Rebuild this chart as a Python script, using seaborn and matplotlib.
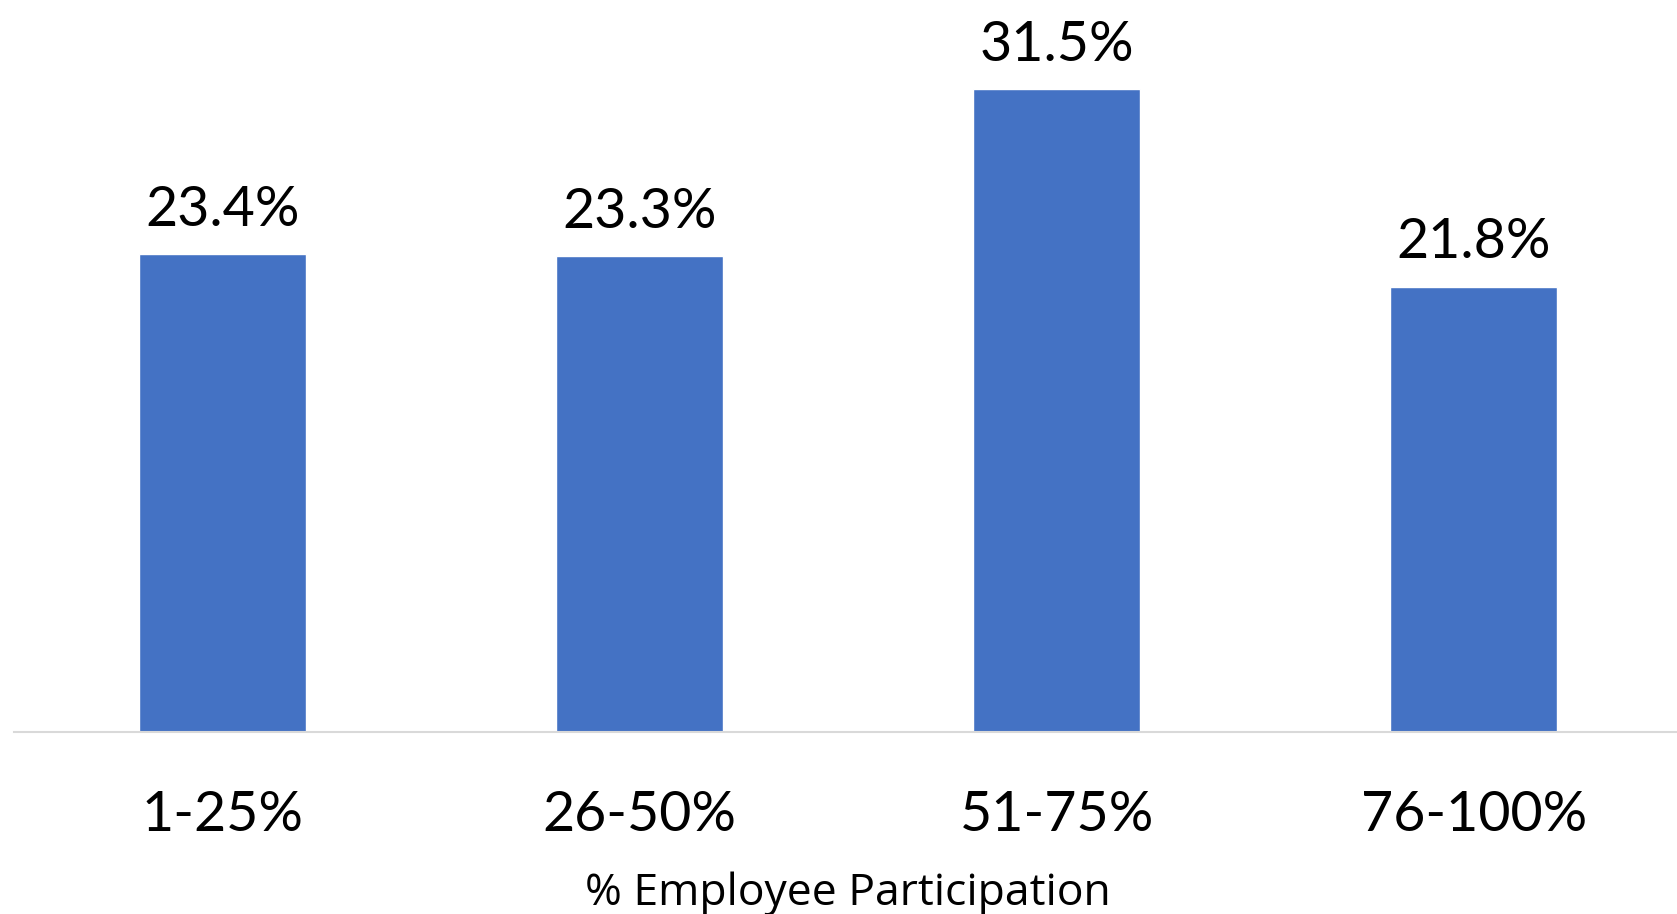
import matplotlib
matplotlib.use("Agg")
import matplotlib.pyplot as plt
import seaborn as sns
import pandas as pd

categories = ["1-25%", "26-50%", "51-75%", "76-100%"]
values = [23.4, 23.3, 31.5, 21.8]
value_labels = ["23.4%", "23.3%", "31.5%", "21.8%"]
x_title = "% Employee Participation"

sns.set_style("white")
plt.rcParams['font.family'] = ['Lato', 'DejaVu Sans']

W, H = 1677, 914
fig = plt.figure(figsize=(W / 100, H / 100), dpi=100)
ax_left = 13.5 / W
ax_width = 1669 / W
ax_bottom = (H - 731.6) / H
ax_height = 714 / H
ax = fig.add_axes([ax_left, ax_bottom, ax_width, ax_height])

df = pd.DataFrame({"cat": categories, "val": values})
sns.barplot(data=df, x="cat", y="val", color="#4472C4", saturation=1, width=0.4, ax=ax)

ax.set_xlim(-0.5, 3.5)
ax.set_ylim(0, 35)

for i, (v, lab) in enumerate(zip(values, value_labels)):
    ax.annotate(lab, xy=(i, v), xytext=(0, 20.5), textcoords="offset points",
                ha="center", va="baseline", fontsize=40, color="#000000")

for s in ["top", "left", "right"]:
    ax.spines[s].set_visible(False)
ax.spines["bottom"].set_color("#D9D9D9")
ax.spines["bottom"].set_linewidth(1.5)
ax.set_yticks([])
ax.set_ylabel("")
ax.tick_params(axis="x", length=0, pad=42, labelsize=40, labelcolor="#000000")

ax.set_xlabel(x_title, fontsize=32, color="#000000", family=['Open Sans', 'DejaVu Sans'])
ax.xaxis.set_label_coords((848 - 13.5) / 1669, -(905 - 731.6) / 714)
ax.xaxis.label.set_va("baseline")

fig.savefig("out.png", dpi=100)
